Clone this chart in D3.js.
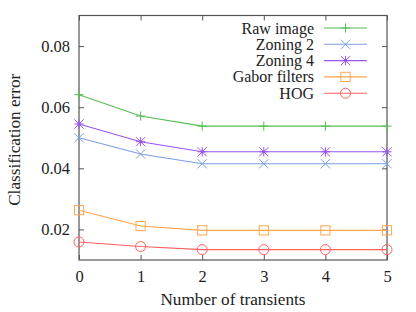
<!DOCTYPE html>
<html>
<head>
<meta charset="utf-8">
<script src="https://cdn.jsdelivr.net/npm/d3@7"></script>
<style>
  body { margin: 0; background: #fff; }
</style>
</head>
<body>
<svg id="chart" width="416" height="312"></svg>
<script>
const transients = [0, 1, 2, 3, 4, 5];
const rawImage = [0.0641, 0.0571, 0.0538, 0.0538, 0.0538, 0.0538];
const zoning2 = [0.0500, 0.0447, 0.0415, 0.0415, 0.0415, 0.0415];
const zoning4 = [0.0545, 0.0487, 0.0454, 0.0454, 0.0454, 0.0454];
const gabor = [0.0263, 0.0211, 0.0197, 0.0197, 0.0197, 0.0197];
const hog = [0.0159, 0.0144, 0.0134, 0.0134, 0.0134, 0.0134];
const yTicks = [0.02, 0.04, 0.06, 0.08];

const series = [
  { name: "Raw image", values: rawImage, color: "#55bb55", marker: "plus" },
  { name: "Zoning 2", values: zoning2, color: "#7c9ee6", marker: "cross" },
  { name: "Zoning 4", values: zoning4, color: "#9a55ee", marker: "star" },
  { name: "Gabor filters", values: gabor, color: "#ffa54a", marker: "square" },
  { name: "HOG", values: hog, color: "#ff6060", marker: "circle" }
];

const fontFamily = "'Liberation Serif', 'Times New Roman', serif";
const fontSize = 16;
const labelSize = 17.2;

const margin = { top: 15.5, right: 29, bottom: 52, left: 79 };
const width = 416 - margin.left - margin.right;
const height = 312 - margin.top - margin.bottom;

const svg = d3.select("#chart");
const chart = svg.append("g")
  .attr("transform", `translate(${margin.left}, ${margin.top})`);

const x = d3.scaleLinear().domain([0, 5]).range([0, width]);
const y = d3.scaleLinear().domain([0.01, 0.09]).range([height, 0]);

const axisColor = "#555";
const tickLen = 5;

// inward ticks on all four sides
chart.append("g")
  .attr("transform", `translate(0, ${height})`)
  .call(d3.axisBottom(x).tickValues(transients).tickSize(-tickLen).tickPadding(10).tickFormat(d3.format("d")))
  .call(g => g.select(".domain").remove());
chart.append("g")
  .call(d3.axisTop(x).tickValues(transients).tickSize(-tickLen).tickFormat(""))
  .call(g => g.select(".domain").remove());
chart.append("g")
  .call(d3.axisLeft(y).tickValues(yTicks).tickSize(-tickLen).tickPadding(9).tickFormat(d3.format(".2f")))
  .call(g => g.select(".domain").remove());
chart.append("g")
  .attr("transform", `translate(${width}, 0)`)
  .call(d3.axisRight(y).tickValues(yTicks).tickSize(-tickLen).tickFormat(""))
  .call(g => g.select(".domain").remove());

chart.selectAll("g").attr("font-family", fontFamily).attr("font-size", 16.5);
chart.selectAll(".tick line").attr("stroke", axisColor);
chart.selectAll(".tick text").attr("fill", "#222");

chart.append("rect")
  .attr("width", width)
  .attr("height", height)
  .attr("fill", "none")
  .attr("stroke", axisColor)
  .attr("stroke-width", 1.2);

function drawMarker(g, type, color) {
  const s = 4.6;
  if (type === "plus" || type === "star") {
    g.append("path").attr("d", `M${-s},0H${s}M0,${-s}V${s}`)
      .attr("stroke", color).attr("fill", "none");
  }
  if (type === "cross" || type === "star") {
    g.append("path").attr("d", `M${-s},${-s}L${s},${s}M${-s},${s}L${s},${-s}`)
      .attr("stroke", color).attr("fill", "none");
  }
  if (type === "star") {
    g.append("circle").attr("r", 1.6).attr("fill", color);
  }
  if (type === "square") {
    g.append("rect").attr("x", -s).attr("y", -s).attr("width", 2 * s).attr("height", 2 * s)
      .attr("stroke", color).attr("fill", "none");
  }
  if (type === "circle") {
    g.append("circle").attr("r", s + 0.4).attr("stroke", color).attr("fill", "none");
  }
}

const line = d3.line()
  .x((d, i) => x(transients[i]))
  .y(d => y(d));

series.forEach(s => {
  chart.append("path")
    .datum(s.values)
    .attr("d", line)
    .attr("fill", "none")
    .attr("stroke", s.color)
    .attr("stroke-width", 1.1);
  s.values.forEach((v, i) => {
    const g = chart.append("g")
      .attr("transform", `translate(${x(transients[i])}, ${y(v)})`);
    drawMarker(g, s.marker, s.color);
  });
});

// legend
const legend = svg.append("g")
  .attr("transform", "translate(0, 28)")
  .attr("font-family", fontFamily)
  .attr("font-size", fontSize);
series.forEach((s, i) => {
  const row = legend.append("g").attr("transform", `translate(0, ${i * 16.3})`);
  row.append("text")
    .attr("x", 314)
    .attr("y", 5.5)
    .attr("text-anchor", "end")
    .attr("fill", "#222")
    .text(s.name);
  row.append("line")
    .attr("x1", 324).attr("x2", 367)
    .attr("stroke", s.color)
    .attr("stroke-width", 1.1);
  const m = row.append("g").attr("transform", "translate(345.5, 0)");
  drawMarker(m, s.marker, s.color);
});

svg.append("text")
  .attr("x", margin.left + width / 2)
  .attr("y", 305)
  .attr("text-anchor", "middle")
  .attr("font-family", fontFamily)
  .attr("font-size", labelSize)
  .attr("fill", "#222")
  .text("Number of transients");

svg.append("text")
  .attr("transform", `translate(20, ${margin.top + height / 2 + 2}) rotate(-90)`)
  .attr("text-anchor", "middle")
  .attr("font-family", fontFamily)
  .attr("font-size", labelSize)
  .attr("fill", "#222")
  .text("Classification error");
</script>
</body>
</html>
